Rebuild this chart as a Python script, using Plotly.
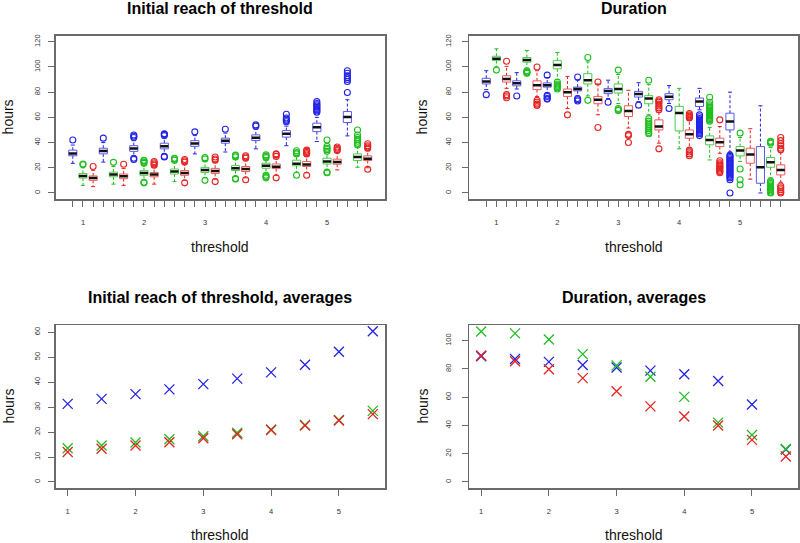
import plotly.graph_objects as go

# ---------------- data ----------------
thresholds = [1, 1.5, 2, 2.5, 3, 3.5, 4, 4.5, 5, 5.5]
axis_labels = ["1", "2", "3", "4", "5"]

# five-number summaries per threshold: (lower whisker, q1, median, q3, upper whisker)
reach_blue = [(23.5, 29.5, 31.3, 34.0, 38.0), (24.5, 31.0, 33.3, 35.5, 40.0), (29.0, 33.0, 35.2, 37.5, 41.5),
              (31.0, 35.0, 37.1, 39.5, 43.5), (31.0, 37.0, 39.2, 41.5, 45.5), (32.5, 39.5, 41.4, 43.5, 47.5),
              (35.0, 41.6, 43.9, 46.1, 50.5), (37.5, 44.3, 46.9, 49.5, 53.0), (40.8, 48.7, 52.2, 55.4, 60.0),
              (45.3, 55.9, 60.2, 64.6, 74.0)]
reach_blue_out = [[42], [43.5], [44, 45, 46, 26.5, 27.5], [45.5, 46.5, 47, 28.5, 29], [48.5], [50.5], [53, 54],
                  [56.5, 57.5, 58.5, 59.5, 62.5], [64, 65, 66, 67, 68, 69, 70, 71, 72.5],
                  [79.7, 88.5, 90, 91.5, 93, 95, 97]]
reach_green = [(6.0, 11.8, 13.5, 15.5, 20.0), (7.0, 12.8, 14.6, 16.5, 21.0), (10.5, 14.0, 15.8, 17.7, 22.0),
               (9.0, 15.0, 17.1, 19.0, 24.0), (12.0, 16.3, 18.3, 20.3, 25.5), (13.0, 17.8, 19.7, 21.7, 27.0),
               (15.0, 19.6, 21.5, 23.6, 27.0), (16.5, 21.5, 23.2, 26.0, 30.0), (18.0, 23.0, 25.0, 27.6, 32.0),
               (20.4, 25.7, 28.5, 31.0, 36.5)]
reach_green_out = [[22.5, 23], [24.3], [23.5, 24.5, 25.5, 26, 8, 8.5], [26, 27, 27.5], [27, 28, 10],
                   [28.5, 29.5, 30, 11, 11.5], [28, 29, 30.2, 12, 13, 14], [31, 32, 33.5, 14],
                   [33, 34.5, 35.5, 37, 42, 16, 16.5], [38, 39.5, 41, 42.5, 44, 46, 50]]
reach_red = [(5.0, 10.0, 11.8, 13.5, 18.0), (6.0, 11.3, 13.3, 15.0, 19.5), (7.0, 12.8, 14.6, 16.3, 20.5),
             (10.0, 14.0, 15.9, 17.8, 22.5), (11.0, 15.5, 17.5, 19.5, 24.5), (12.0, 17.0, 19.1, 21.0, 26.0),
             (14.0, 19.3, 20.8, 23.0, 28.0), (16.0, 21.0, 22.6, 25.0, 30.0), (18.3, 22.8, 24.6, 26.8, 32.0),
             (20.0, 25.7, 27.2, 29.4, 33.5)]
reach_red_out = [[21], [22.8], [22, 23, 24, 25], [24.5, 25.5, 26.5, 8], [26, 27, 28.5, 9], [27.5, 28.5, 29.5, 10.5],
                 [29, 30.5, 31, 12], [31, 32, 33, 34, 14], [33.6, 34.5, 35.5, 36.5], [35.5, 36.5, 37.5, 39, 18.8]]

dur_blue = [(82.0, 86.5, 88.5, 91.0, 97.0), (82.5, 85.0, 87.0, 89.0, 95.5), (79.5, 84.0, 85.5, 87.3, 91.5),
            (77.0, 81.0, 82.5, 84.0, 89.5), (75.0, 78.8, 81.0, 82.8, 89.5), (72.5, 76.1, 78.5, 80.6, 87.5),
            (71.0, 74.0, 76.3, 78.8, 85.2), (66.0, 68.6, 72.6, 75.3, 83.0), (32.5, 50.0, 56.7, 63.3, 80.0),
            (0.0, 7.7, 20.4, 36.8, 69.2)]
dur_blue_out = [[78], [77], [93.5, 77.5, 76.5, 75, 74.5], [92, 75, 74, 73], [72], [69.7], [67],
                [62, 60.5, 59, 58, 57, 56, 55, 54, 53, 52, 51, 50, 49, 48, 47, 45.5],
                [30, 29, 28, 27, 26, 25, 24, 23, 22, 21, 20, 19, 18, 17, 16, 15, 14, 13, 12, 10.5, 0],
                []]
dur_green = [(100.0, 105.0, 106.5, 108.5, 114.4), (99.0, 103.8, 105.5, 107.5, 113.0), (90.0, 98.5, 101.5, 105.0, 111.5),
             (77.0, 86.5, 89.5, 94.7, 104.0), (71.0, 79.3, 82.5, 86.5, 94.0), (62.0, 70.8, 75.0, 77.2, 86.0),
             (35.0, 49.2, 63.5, 68.7, 83.0), (26.2, 38.2, 42.1, 45.3, 52.0), (25.0, 29.4, 33.6, 36.8, 44.0),
             (12.0, 20.4, 24.4, 28.1, 36.0)]
dur_green_out = [[97.5], [97, 96, 95.5, 95], [88, 86.5, 85.5, 84.5, 83.5, 82.5], [107.5, 73.5], [97.5, 67, 66, 65.5],
                 [89.5, 59, 57, 55.5, 54, 52.5, 51, 49.5, 48, 47], [],
                 [57, 58, 59, 60, 61, 62, 63, 64, 65, 66, 67, 68, 69, 70, 72, 76],
                 [47.5, 19, 10.5, 6.5],
                 [41, 40.3, 39.5, 9.5, 8.5, 7.5, 6.5, 5.5, 4.5, 3.5, 2.5, 1.5, 0.5, 0]]
dur_red = [(83.0, 88.0, 90.5, 93.0, 100.5), (76.5, 82.0, 85.5, 89.0, 97.0), (67.0, 76.6, 80.0, 82.5, 92.5),
           (62.0, 70.8, 74.0, 76.6, 86.5), (51.5, 60.7, 65.0, 69.2, 81.5), (39.5, 50.0, 52.7, 58.0, 64.0),
           (35.5, 43.4, 46.5, 50.0, 58.0), (31.5, 36.8, 40.3, 43.5, 52.7), (10.9, 23.6, 30.5, 35.5, 51.0),
           (8.5, 14.3, 18.3, 22.3, 32.0)]
dur_red_out = [[104.5, 78, 77, 75.5], [100, 73.5, 72, 70.5, 69.5], [62], [88, 52], [46.5, 45.5, 40],
               [66, 67.5, 69, 70.5, 72, 73, 74, 35], [63, 62, 61, 60, 59.5, 34, 32.5, 31, 29.5],
               [58, 25.5, 24, 23, 22, 21, 20, 19, 18, 17, 16], [],
               [44, 41.5, 39, 37.5, 35.5, 34.2, 5.5, 4, 2.5, 1, 0]]

# averages
reach_avg_blue = [31.3, 33.3, 35.2, 37.1, 39.2, 41.4, 43.9, 47.0, 52.2, 60.4]
reach_avg_green = [13.5, 14.6, 15.8, 17.1, 18.3, 19.7, 21.0, 22.8, 24.8, 28.5]
reach_avg_red = [12.0, 13.3, 14.6, 15.9, 17.5, 19.1, 20.8, 22.6, 24.6, 27.2]
dur_avg_blue = [89.0, 87.0, 85.0, 82.8, 81.0, 78.8, 76.2, 71.5, 54.8, 23.0]
dur_avg_green = [106.5, 105.2, 100.8, 90.5, 82.5, 74.5, 60.2, 42.0, 33.2, 23.3]
dur_avg_red = [89.5, 85.5, 79.8, 73.5, 64.2, 53.5, 46.3, 40.0, 29.8, 18.0]

# ---------------- styling ----------------
COL = {"blue": "#2323e6", "green": "#1fbf1f", "red": "#e62323"}
BOX_COL = {"blue": "#5a5aee", "green": "#4ccc4c", "red": "#ee5a5a"}
FRAME = "#6a6a6a"
W, H = 800, 543
FONT = "Liberation Sans, Arial, sans-serif"

def px_x(p):
    return p / W

def px_y(p):
    return 1 - p / H

dom_x_left = [55.5 / W, 385 / W]
dom_x_right = [469 / W, 798 / W]
dom_y_top = [px_y(199), px_y(35.7)]
dom_y_bot = [px_y(488), px_y(325)]

fig = go.Figure()

ncol = 3
box_pos = {}
for ci, name in enumerate(["blue", "green", "red"]):
    box_pos[name] = [i * ncol + ci + 1 for i in range(len(thresholds))]
label_pos = [box_pos["green"][i] for i, t in enumerate(thresholds) if float(t).is_integer()]
all_pos = list(range(1, len(thresholds) * ncol + 1))


def add_boxes(stats, outs, name, xa, ya):
    hw, sw = 0.4, 0.2
    bx, by, wx, wy, sx, sy, mx, my, ox, oy = [], [], [], [], [], [], [], [], [], []
    for p, (lw, q1, md, q3, uw), o in zip(box_pos[name], stats, outs):
        bx += [p - hw, p + hw, p + hw, p - hw, p - hw, None]
        by += [q1, q1, q3, q3, q1, None]
        wx += [p, p, None, p, p, None]
        wy += [q3, uw, None, q1, lw, None]
        sx += [p - sw, p + sw, None, p - sw, p + sw, None]
        sy += [uw, uw, None, lw, lw, None]
        mx += [p - hw, p + hw, None]
        my += [md, md, None]
        ox += [p] * len(o)
        oy += o
    common = dict(xaxis=xa, yaxis=ya, showlegend=False, hoverinfo="skip")
    fig.add_trace(go.Scatter(x=wx, y=wy, mode="lines",
                             line=dict(color=COL[name], width=1, dash="3px,2px"), **common))
    fig.add_trace(go.Scatter(x=sx, y=sy, mode="lines", line=dict(color=COL[name], width=1), **common))
    fig.add_trace(go.Scatter(x=bx, y=by, mode="lines", line=dict(color=BOX_COL[name], width=1), **common))
    fig.add_trace(go.Scatter(x=mx, y=my, mode="lines", line=dict(color="#111111", width=2.5), **common))
    fig.add_trace(go.Scatter(x=ox, y=oy, mode="markers",
                             marker=dict(symbol="circle-open", size=6, color=COL[name], line=dict(width=1.1)),
                             **common))


add_boxes(reach_blue, reach_blue_out, "blue", "x", "y")
add_boxes(reach_green, reach_green_out, "green", "x", "y")
add_boxes(reach_red, reach_red_out, "red", "x", "y")
add_boxes(dur_blue, dur_blue_out, "blue", "x2", "y2")
add_boxes(dur_green, dur_green_out, "green", "x2", "y2")
add_boxes(dur_red, dur_red_out, "red", "x2", "y2")


def add_avg(vals, name, xa, ya):
    fig.add_trace(go.Scatter(x=thresholds, y=vals, mode="markers", xaxis=xa, yaxis=ya, showlegend=False,
                             marker=dict(symbol="x-thin", size=10, color=COL[name],
                                         line=dict(width=1.3, color=COL[name]))))


add_avg(reach_avg_blue, "blue", "x3", "y3")
add_avg(reach_avg_green, "green", "x3", "y3")
add_avg(reach_avg_red, "red", "x3", "y3")
add_avg(dur_avg_blue, "blue", "x4", "y4")
add_avg(dur_avg_green, "green", "x4", "y4")
add_avg(dur_avg_red, "red", "x4", "y4")

box_ticktext = [axis_labels[label_pos.index(p)] if p in label_pos else "" for p in all_pos]

axis_common = dict(showline=True, mirror=True, linecolor=FRAME, linewidth=1.5, ticks="outside",
                   ticklen=6, tickwidth=1, tickcolor=FRAME, showgrid=False, zeroline=False,
                   tickfont=dict(family=FONT, size=7.5, color="#333333"), fixedrange=True)

fig.update_layout(
    width=W, height=H, margin=dict(l=0, r=0, t=0, b=0),
    plot_bgcolor="white", paper_bgcolor="white", showlegend=False,
    xaxis=dict(domain=dom_x_left, anchor="y", range=[-0.7, 31.7], tickmode="array",
               tickvals=all_pos, ticktext=box_ticktext, ticklabelstandoff=9, **axis_common),
    yaxis=dict(domain=dom_y_top, anchor="x", range=[-4.8, 124.8], tickvals=[0, 20, 40, 60, 80, 100, 120],
               tickangle=-90, ticklabelstandoff=5, **axis_common),
    xaxis2=dict(domain=dom_x_right, anchor="y2", range=[-0.7, 31.7], tickmode="array",
                tickvals=all_pos, ticktext=box_ticktext, ticklabelstandoff=9, **axis_common),
    yaxis2=dict(domain=dom_y_top, anchor="x2", range=[-4.8, 124.8], tickvals=[0, 20, 40, 60, 80, 100, 120],
                tickangle=-90, ticklabelstandoff=8, **axis_common),
    xaxis3=dict(domain=dom_x_left, anchor="y3", range=[0.82, 5.68], tickvals=[1, 2, 3, 4, 5],
                ticktext=axis_labels, ticklabelstandoff=9, **axis_common),
    yaxis3=dict(domain=dom_y_bot, anchor="x3", range=[-2.42, 62.9], tickvals=[0, 10, 20, 30, 40, 50, 60],
                tickangle=-90, ticklabelstandoff=5, **axis_common),
    xaxis4=dict(domain=dom_x_right, anchor="y4", range=[0.82, 5.68], tickvals=[1, 2, 3, 4, 5],
                ticktext=axis_labels, ticklabelstandoff=9, **axis_common),
    yaxis4=dict(domain=dom_y_bot, anchor="x4", range=[-4.27, 111.1], tickvals=[0, 20, 40, 60, 80, 100],
                tickangle=-90, ticklabelstandoff=8, **axis_common),
)

titles = [("Initial reach of threshold", 220, 9), ("Duration", 633.5, 9),
          ("Initial reach of threshold, averages", 220, 297.5), ("Duration, averages", 633.5, 297.5)]
for txt, x, y in titles:
    fig.add_annotation(text="<b>%s</b>" % txt, x=px_x(x), y=px_y(y), xref="paper", yref="paper",
                       xanchor="center", yanchor="middle", showarrow=False,
                       font=dict(family=FONT, size=16, color="#000000"))

xtitles = [(220, 247), (633.5, 247), (220, 535), (633.5, 535)]
for x, y in xtitles:
    fig.add_annotation(text="threshold", x=px_x(x), y=px_y(y), xref="paper", yref="paper",
                       xanchor="center", yanchor="middle", showarrow=False,
                       font=dict(family=FONT, size=14, color="#111111"))

ytitles = [(8, 117.4), (422, 117.4), (8, 406.5), (422, 406.5)]
for x, y in ytitles:
    fig.add_annotation(text="hours", x=px_x(x), y=px_y(y), xref="paper", yref="paper",
                       xanchor="center", yanchor="middle", showarrow=False, textangle=-90,
                       font=dict(family=FONT, size=14, color="#111111"))

fig.write_html("out.html", config={"displayModeBar": False, "staticPlot": True},
               post_script="document.body.style.margin='0';document.body.style.padding='0';"
                           "document.body.style.overflow='hidden';")
